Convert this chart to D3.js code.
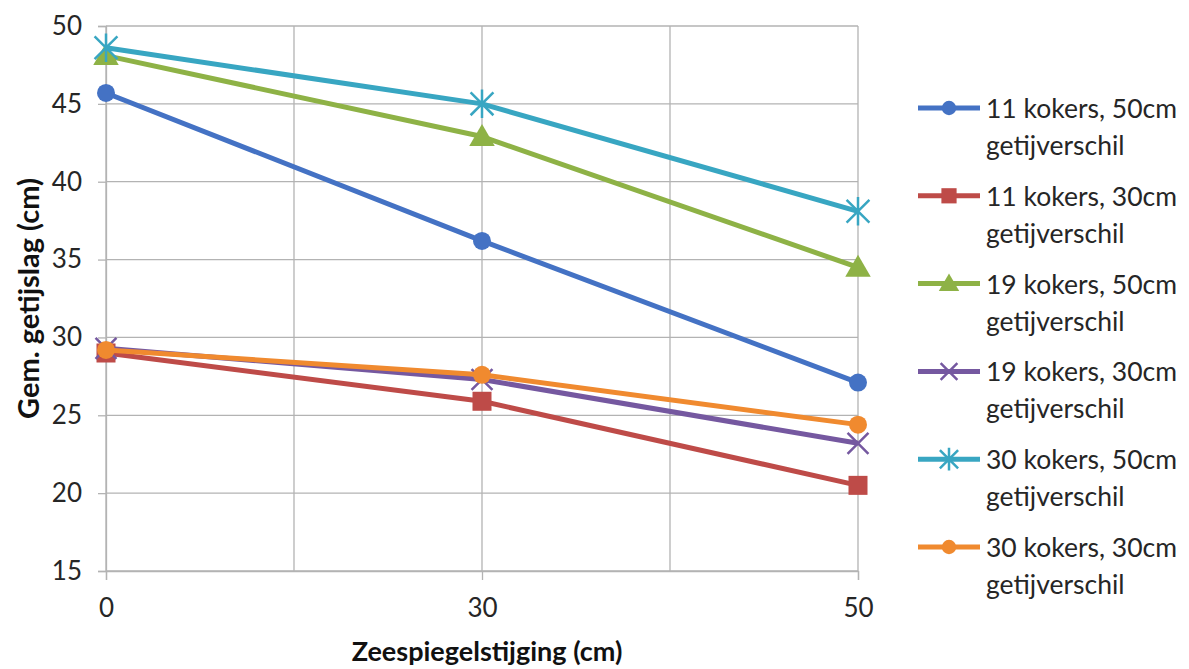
<!DOCTYPE html>
<html>
<head>
<meta charset="utf-8">
<script src="https://cdn.jsdelivr.net/npm/d3@7"></script>
<style>
  html, body { margin: 0; padding: 0; background: #fff; }
  svg { display: block; font-family: Lato, "Open Sans", sans-serif; }
</style>
</head>
<body>
<svg id="chart" width="1189" height="669"></svg>
<script>
// Sea-level rise categories (cm) on the x axis
const categories = ["0", "30", "50"];
const yTicks = [15, 20, 25, 30, 35, 40, 45, 50];

// Mean tidal range (cm) per configuration
const kokers11_50 = [45.7, 36.2, 27.1];
const kokers11_30 = [29.0, 25.9, 20.5];
const kokers19_50 = [48.1, 42.9, 34.5];
const kokers19_30 = [29.3, 27.3, 23.2];
const kokers30_50 = [48.6, 45.0, 38.1];
const kokers30_30 = [29.2, 27.6, 24.4];

const seriesNames = [
  ["11 kokers, 50cm", "getijverschil"],
  ["11 kokers, 30cm", "getijverschil"],
  ["19 kokers, 50cm", "getijverschil"],
  ["19 kokers, 30cm", "getijverschil"],
  ["30 kokers, 50cm", "getijverschil"],
  ["30 kokers, 30cm", "getijverschil"]
];
const seriesValues = [kokers11_50, kokers11_30, kokers19_50, kokers19_30, kokers30_50, kokers30_30];
const seriesColors = ["#4472C4", "#BE4B48", "#8EB246", "#7558A0", "#38A6C2", "#F08A2F"];
const seriesMarkers = ["circle", "square", "triangle", "x", "star", "circle"];

const series = seriesValues.map((v, i) => ({
  name: seriesNames[i], values: v, color: seriesColors[i], marker: seriesMarkers[i]
}));

const svg = d3.select("#chart");
const plot = { left: 106, right: 858, top: 26, bottom: 571 };

const x = d3.scaleLinear().domain([0, categories.length - 1]).range([plot.left, plot.right]);
const y = d3.scaleLinear().domain([15, 50]).range([plot.bottom, plot.top]);

const gridColor = "#b3b3b3";
const textColor = "#262626";
const g = svg.append("g");

// Horizontal gridlines
g.append("g").selectAll("line").data(yTicks).join("line")
  .attr("x1", plot.left).attr("x2", plot.right)
  .attr("y1", d => y(d)).attr("y2", d => y(d))
  .attr("stroke", gridColor).attr("stroke-width", 1.3);

// Vertical gridlines at each category and halfway between them
const vGrid = d3.range(0, categories.length - 0.5, 0.5);
g.append("g").selectAll("line").data(vGrid).join("line")
  .attr("x1", d => x(d)).attr("x2", d => x(d))
  .attr("y1", plot.top).attr("y2", plot.bottom)
  .attr("stroke", gridColor).attr("stroke-width", 1.3);

// Y axis
const yAxis = d3.axisLeft(y).tickValues(yTicks).tickSize(8).tickPadding(16);
const ya = g.append("g").attr("transform", `translate(${plot.left},0)`).call(yAxis);
ya.select(".domain").attr("stroke", gridColor).attr("stroke-width", 1.3);
ya.selectAll(".tick line").attr("stroke", gridColor).attr("stroke-width", 1.3);
ya.selectAll(".tick text").attr("font-size", 26).attr("fill", textColor)
  .attr("font-family", "Lato, sans-serif");

// X axis
const xAxis = d3.axisBottom(x).tickValues(d3.range(categories.length))
  .tickFormat(i => categories[i]).tickSize(9).tickPadding(21);
const xa = g.append("g").attr("transform", `translate(0,${plot.bottom})`).call(xAxis);
xa.select(".domain").attr("stroke", gridColor).attr("stroke-width", 1.3);
xa.selectAll(".tick line").attr("stroke", gridColor).attr("stroke-width", 1.3);
xa.selectAll(".tick text").attr("font-size", 26).attr("fill", textColor)
  .attr("font-family", "Lato, sans-serif").attr("dy", "0.6em");

// Axis titles
svg.append("text")
  .attr("x", 487).attr("y", 661)
  .attr("text-anchor", "middle").attr("font-size", 27).attr("font-weight", "bold")
  .attr("fill", "#111").text("Zeespiegelstijging (cm)");
svg.append("text")
  .attr("transform", `translate(39,${(plot.top + plot.bottom) / 2}) rotate(-90)`)
  .attr("text-anchor", "middle").attr("font-size", 29).attr("font-weight", "bold")
  .attr("fill", "#111").text("Gem. getijslag (cm)");

// Marker drawing
function drawMarker(sel, type, color, s) {
  if (type === "circle") {
    sel.append("circle").attr("r", s * 0.5).attr("fill", color);
  } else if (type === "square") {
    sel.append("rect").attr("x", -s / 2).attr("y", -s / 2).attr("width", s).attr("height", s)
      .attr("fill", color);
  } else if (type === "triangle") {
    const h = s * 0.95;
    sel.append("path").attr("d", `M0,${-h * 0.6}L${s * 0.58},${h * 0.45}L${-s * 0.58},${h * 0.45}Z`)
      .attr("fill", color);
  } else if (type === "x") {
    const r = s * 0.55;
    sel.append("path").attr("d", `M${-r},${-r}L${r},${r}M${-r},${r}L${r},${-r}`)
      .attr("stroke", color).attr("stroke-width", 2.5).attr("fill", "none");
  } else if (type === "star") {
    const r = s * 0.6;
    sel.append("path")
      .attr("d", `M${-r},${-r}L${r},${r}M${-r},${r}L${r},${-r}M0,${-r * 1.25}L0,${r * 1.25}`)
      .attr("stroke", color).attr("stroke-width", 2.5).attr("fill", "none");
  }
}

const markerSize = { circle: 18, square: 19, triangle: 22, x: 19, star: 19 };
const line = d3.line().x((d, i) => x(i)).y(d => y(d));

// Lines and markers
series.forEach(s => {
  const sg = svg.append("g");
  sg.append("path").datum(s.values).attr("d", line)
    .attr("fill", "none").attr("stroke", s.color).attr("stroke-width", 5)
    .attr("stroke-linejoin", "round");
  s.values.forEach((v, i) => {
    const m = sg.append("g").attr("transform", `translate(${x(i)},${y(v)})`);
    drawMarker(m, s.marker, s.color, markerSize[s.marker]);
  });
});

// Legend
const legend = svg.append("g").attr("transform", "translate(918,0)");
series.forEach((s, i) => {
  const cy = 108 + i * 87.8;
  const lg = legend.append("g").attr("transform", `translate(0,${cy})`);
  lg.append("line").attr("x1", 0).attr("x2", 62).attr("y1", 0).attr("y2", 0)
    .attr("stroke", s.color).attr("stroke-width", 5);
  const m = lg.append("g").attr("transform", "translate(31,0)");
  drawMarker(m, s.marker, s.color, markerSize[s.marker] * 0.8);
  const t = lg.append("text").attr("x", 68).attr("y", 10)
    .attr("font-size", 26.5).attr("fill", textColor);
  t.append("tspan").attr("x", 68).attr("dy", 0).text(s.name[0]);
  t.append("tspan").attr("x", 68).attr("dy", 37).text(s.name[1]);
});
</script>
</body>
</html>
